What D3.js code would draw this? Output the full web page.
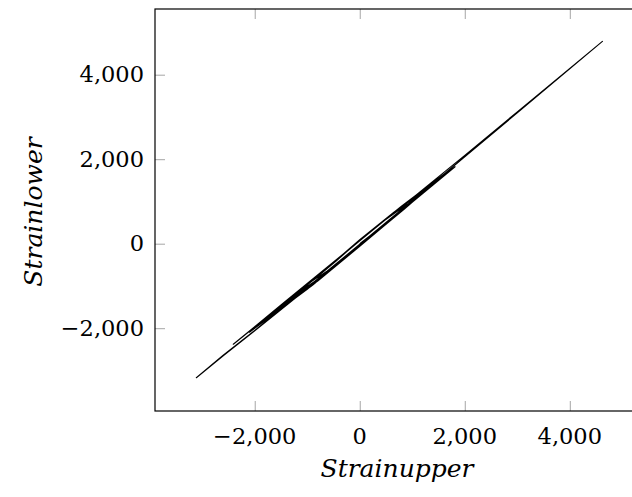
<!DOCTYPE html>
<html>
<head>
<meta charset="utf-8">
<script src="https://cdn.jsdelivr.net/npm/d3@7"></script>
<style>
  html, body { margin: 0; padding: 0; background: #fff; }
  svg { display: block; }
  .tick-label { font-family: "DejaVu Serif", serif; font-size: 22.5px; fill: #000; }
  .axis-title { font-family: "DejaVu Serif", serif; font-style: italic; font-size: 25px; fill: #000; }
</style>
</head>
<body>
<svg id="chart" width="632" height="497"></svg>
<script>
// ---- data (Strainupper, Strainlower) ----
const strainUpper = [
  0, 300, 600, 900,
  450, 0, -450, -900,
  -450, 0, 550, 1100,
  550, 0, -600, -1200,
  -600, 0, 650, 1300,
  650, 0, -700, -1450,
  -700, 0, 700, 1450,
  700, 0, -800, -1650,
  -800, 0, 800, 1600,
  800, 0, -900, -1900,
  -900, 0, 850, 1700,
  850, 0, -1000, -2100,
  -1000, 0, 900, 1815,
  900, 0, -1200, -2408,
  -2000, -1500, -1000, 0, 1000, 2000, 3000, 4621,
  3000, 2000, 1000, 0, -1000, -2000, -2600, -3112,
  -2600, -2000, -1000, 0
];
const strainLower = [
  0, 291, 590, 934,
  531, 87, -414, -880,
  -502, -40, 534, 1137,
  644, 92, -566, -1186,
  -666, -52, 629, 1339,
  745, 97, -667, -1440,
  -777, -58, 674, 1491,
  795, 97, -769, -1643,
  -884, -63, 770, 1640,
  896, 92, -870, -1895,
  -985, -58, 821, 1738,
  942, 80, -971, -2096,
  -1082, -46, 877, 1822,
  987, 70, -1179, -2381,
  -1963, -1448, -943, 77, 1077, 2092, 3120, 4790,
  3097, 2057, 1017, -13, -1038, -2053, -2641, -3172,
  -2655, -2060, -1060, -40
];
const xTicks = [-2000, 0, 2000, 4000];
const yTicks = [-2000, 0, 2000, 4000];
const xLabel = "Strainupper";
const yLabel = "Strainlower";

const points = strainUpper.map((u, i) => [u, strainLower[i]]);

// ---- layout ----
const mLeft = 155, mRight = 643, mTop = 9, mBottom = 411;
const x = d3.scaleLinear().domain([-3899, 5394]).range([mLeft, mRight]);
const y = d3.scaleLinear().domain([-3960, 5555]).range([mBottom, mTop]);
const fmt = d3.format(",");
const tickLen = 10;
const tickColor = "#a6a6a6";

const svg = d3.select("#chart");

// data line
svg.append("path")
  .datum(points)
  .attr("fill", "none")
  .attr("stroke", "#000")
  .attr("stroke-width", 1.1)
  .attr("stroke-linejoin", "round")
  .attr("d", d3.line().x(d => x(d[0])).y(d => y(d[1])));

// axes with inner ticks on all four sides
const axB = d3.axisBottom(x).tickValues(xTicks).tickSizeInner(-tickLen).tickSizeOuter(0).tickFormat("");
const axT = d3.axisTop(x).tickValues(xTicks).tickSizeInner(-tickLen).tickSizeOuter(0).tickFormat("");
const axL = d3.axisLeft(y).tickValues(yTicks).tickSizeInner(-tickLen).tickSizeOuter(0).tickFormat("");
const axR = d3.axisRight(y).tickValues(yTicks).tickSizeInner(-tickLen).tickSizeOuter(0).tickFormat("");

function styleAxis(g) {
  g.select(".domain").remove();
  g.selectAll(".tick line").attr("stroke", tickColor).attr("stroke-width", 1);
}
svg.append("g").attr("transform", `translate(0,${mBottom})`).call(axB).call(styleAxis);
svg.append("g").attr("transform", `translate(0,${mTop})`).call(axT).call(styleAxis);
svg.append("g").attr("transform", `translate(${mLeft},0)`).call(axL).call(styleAxis);
svg.append("g").attr("transform", `translate(${mRight},0)`).call(axR).call(styleAxis);

// frame
svg.append("rect")
  .attr("x", mLeft).attr("y", mTop)
  .attr("width", mRight - mLeft).attr("height", mBottom - mTop)
  .attr("fill", "none").attr("stroke", "#000").attr("stroke-width", 1.2);

// tick labels
svg.append("g").selectAll("text").data(xTicks).join("text")
  .attr("class", "tick-label")
  .attr("x", d => x(d)).attr("y", 444)
  .attr("text-anchor", "middle")
  .text(d => fmt(d));

svg.append("g").selectAll("text").data(yTicks).join("text")
  .attr("class", "tick-label")
  .attr("x", 144).attr("y", d => y(d) + 7.8)
  .attr("text-anchor", "end")
  .text(d => fmt(d));

// axis titles
svg.append("text")
  .attr("class", "axis-title")
  .attr("x", 397).attr("y", 477)
  .attr("text-anchor", "middle")
  .text(xLabel);

svg.append("text")
  .attr("class", "axis-title")
  .attr("transform", "translate(42,212) rotate(-90)")
  .attr("text-anchor", "middle")
  .text(yLabel);
</script>
</body>
</html>
